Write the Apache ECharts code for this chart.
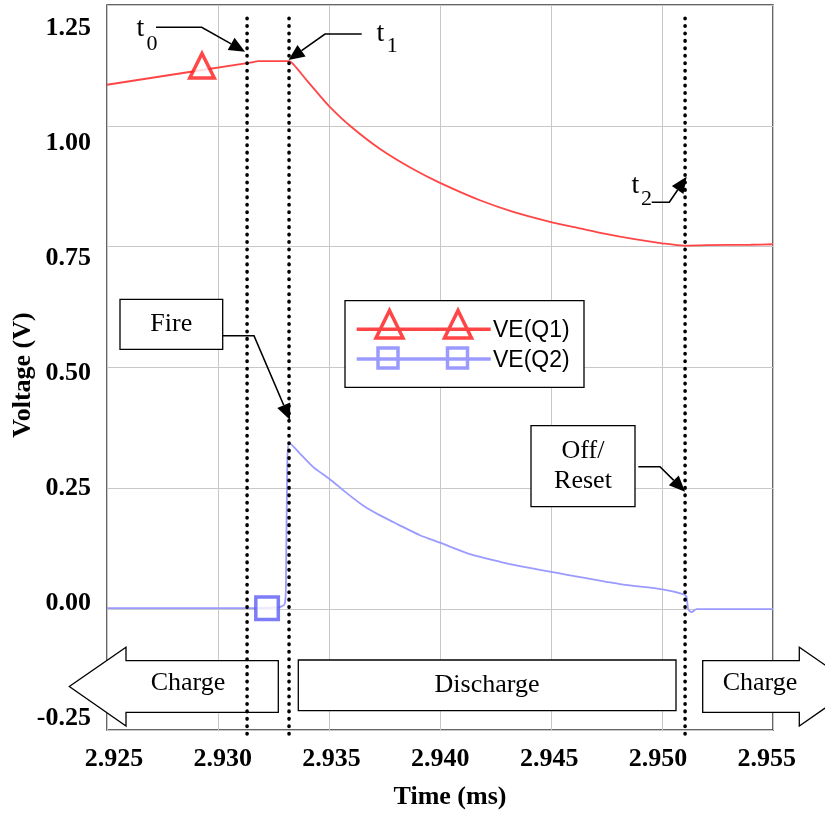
<!DOCTYPE html>
<html>
<head>
<meta charset="utf-8">
<title>VE(Q1) / VE(Q2)</title>
<script src="https://cdn.jsdelivr.net/npm/echarts@6/dist/echarts.min.js"></script>
<style>
  html, body { margin: 0; padding: 0; background: #fff; }
  #chart { width: 825px; height: 815px; }
</style>
</head>
<body>
<div id="chart"></div>
<script>
// time in ms, voltage in V
const xTicks = [2.925, 2.930, 2.935, 2.940, 2.945, 2.950, 2.955]
const yTicks = [-0.25, 0.00, 0.25, 0.50, 0.75, 1.00, 1.25]

const q1Time = [2.9250, 2.9316, 2.9318, 2.9332, 2.9334, 2.9340, 2.9345, 2.9350, 2.9360, 2.9373,
  2.9388, 2.9400, 2.9418, 2.9433, 2.9450, 2.9463, 2.9474, 2.9487, 2.9500, 2.9510, 2.9520, 2.9540, 2.9550]
const q1Volt = [1.085, 1.132, 1.134, 1.134, 1.127, 1.094, 1.067, 1.041, 0.998, 0.952,
  0.910, 0.882, 0.846, 0.822, 0.801, 0.788, 0.777, 0.766, 0.757, 0.752, 0.753, 0.754, 0.755]

const q2Time = [2.9250, 2.9310, 2.9327, 2.9330, 2.93306, 2.93312, 2.93321, 2.93369, 2.93429, 2.93501,
  2.93580, 2.93655, 2.93730, 2.93812, 2.93910, 2.94003, 2.94135, 2.94270, 2.94360, 2.94502,
  2.94811, 2.95002, 2.95095, 2.95110, 2.95118, 2.95133, 2.95156, 2.9550]
const q2Volt = [0.002, 0.002, 0.004, 0.010, 0.050, 0.300, 0.344, 0.322, 0.294, 0.270,
  0.240, 0.214, 0.194, 0.175, 0.153, 0.137, 0.114, 0.098, 0.089, 0.077,
  0.052, 0.041, 0.031, 0.026, 0.000, -0.006, 0.000, 0.000]

// single markers drawn on each trace
const q1Marks = [[2.92928, 1.116]]
const q2Marks = [[2.93221, 0.002]]

// t0, t1, t2 and the dotted lines' extent
const eventNames = ['t0', 't1', 't2']
const eventTimes = [2.93131, 2.93320, 2.95104]
const eventSpan = [1.2225, -0.26]

const q1Color = '#ff4545'
const q2Color = '#9b9bff'
const serif = 'Liberation Serif'
const sans = 'Liberation Sans'

const pairs = (xs, ys) => xs.map((x, i) => [x, ys[i]])

const boldText = { fontFamily: serif, fontSize: 26, fontWeight: 'bold', color: '#000' }

const option = {
  animation: false,
  grid: {
    left: 107, right: 52, top: 5, bottom: 80,
    show: true, borderColor: '#333', borderWidth: 1.5
  },
  xAxis: [
    {
      type: 'value', min: 2.925, max: 2.955, interval: 0.005,
      axisLine: { show: false }, axisTick: { show: false }, axisLabel: { show: false },
      splitLine: { lineStyle: { color: '#c8c8c8', width: 1 } },
      name: 'Time (ms)', nameLocation: 'middle', nameGap: 54,
      nameTextStyle: Object.assign({ padding: [0, 0, 0, 20] }, boldText)
    },
    {
      // label-only axis, the original's tick labels sit a little off the grid
      type: 'value', position: 'bottom', min: 2.924678, max: 2.95529,
      axisLine: { show: false }, axisTick: { show: false }, splitLine: { show: false },
      axisLabel: Object.assign({ customValues: xTicks, formatter: v => v.toFixed(3), margin: 16 }, boldText)
    }
  ],
  yAxis: [
    {
      type: 'value', min: -0.25, max: 1.25, interval: 0.25,
      axisLine: { show: false }, axisTick: { show: false }, axisLabel: { show: false },
      splitLine: { lineStyle: { color: '#c8c8c8', width: 1 } },
      name: 'Voltage (V)', nameLocation: 'middle', nameGap: 71,
      nameTextStyle: Object.assign({ padding: [0, 15, 0, 0] }, boldText)
    },
    {
      type: 'value', position: 'left', min: -0.2759, max: 1.3003,
      axisLine: { show: false }, axisTick: { show: false }, splitLine: { show: false },
      axisLabel: Object.assign({ customValues: yTicks, formatter: v => v.toFixed(2), margin: 16 }, boldText)
    }
  ],
  series: [
    {
      name: 'VE(Q1)', type: 'line', data: pairs(q1Time, q1Volt), symbol: 'none',
      smooth: 0.25,
      lineStyle: { color: q1Color, width: 1.8 }
    },
    {
      name: 'VE(Q2)', type: 'line', data: pairs(q2Time, q2Volt), symbol: 'none',
      smooth: 0.25,
      lineStyle: { color: q2Color, width: 1.8 }
    },
    {
      name: 'VE(Q1) marker', type: 'scatter', data: q1Marks, symbol: 'triangle',
      symbolSize: 24.5, symbolOffset: [0, -4], z: 4,
      itemStyle: { color: '#fff', borderColor: '#ff1a1a', borderWidth: 3.5 }
    },
    {
      name: 'VE(Q2) marker', type: 'scatter', data: q2Marks, symbol: 'rect',
      symbolSize: 22.5, z: 4,
      itemStyle: { color: '#fff', borderColor: '#5c5cf5', borderWidth: 3.5 }
    }
  ].concat(eventTimes.map((t, i) => ({
    name: eventNames[i], type: 'line', symbol: 'none', clip: false, z: 10,
    data: eventSpan.map(v => [t, v]),
    lineStyle: { color: '#000', width: 3.6, type: [0.5, 6.95], cap: 'round' }
  })))
}

const chart = echarts.init(document.getElementById('chart'))
chart.setOption(option)

const px = t => chart.convertToPixel({ xAxisIndex: 0 }, t)

function leader (pts, tip) {
  const last = pts[pts.length - 1]
  const dx = tip[0] - last[0]
  const dy = tip[1] - last[1]
  const len = Math.hypot(dx, dy)
  const ux = dx / len
  const uy = dy / len
  const bx = tip[0] - ux * 16
  const by = tip[1] - uy * 16
  return [
    { type: 'polyline', z: 8, shape: { points: pts.concat([[bx, by]]) },
      style: { stroke: '#000', lineWidth: 1.6, fill: 'none' } },
    { type: 'polygon', z: 8, shape: { points: [tip, [bx - uy * 7, by + ux * 7], [bx + uy * 7, by - ux * 7]] },
      style: { fill: '#000' } }
  ]
}

function label (text, x, y, size, font, align) {
  return {
    type: 'text', z: 8,
    style: { text: text, x: x, y: y, font: size + 'px "' + (font || serif) + '"', fill: '#000',
      align: align || 'center', verticalAlign: 'middle' }
  }
}

function box (x, y, w, h) {
  return { type: 'rect', z: 6, shape: { x: x, y: y, width: w, height: h },
    style: { fill: '#fff', stroke: '#000', lineWidth: 1.3 } }
}

function arrowShape (pts) {
  return { type: 'polygon', z: 6, shape: { points: pts },
    style: { fill: '#fff', stroke: '#000', lineWidth: 1.3 } }
}

const tx = eventTimes.map(px)

const elements = [
  // phase arrows along the bottom
  arrowShape([[278.3, 660.7], [126, 660.7], [126, 647.3], [69.3, 686.5], [126, 726], [126, 712.3], [278.3, 712.3]]),
  label('Charge', 188, 683.5, 26),
  box(298.3, 660, 377.7, 50.7),
  label('Discharge', 487, 685.5, 26),
  arrowShape([[702.7, 660.7], [799.3, 660.7], [799.3, 647.3], [856, 686.5], [799.3, 726], [799.3, 712.3], [702.7, 712.3]]),
  label('Charge', 760, 683.5, 26),

  // callout boxes
  box(120, 299.3, 102.7, 50),
  label('Fire', 171.3, 324.3, 26),
  box(531, 425.7, 104, 81),
  label('Off/', 583, 451.2, 26),
  label('Reset', 583, 480.8, 26),

  // event labels
  label('t', 136.5, 28.5, 28, serif, 'left'),
  label('0', 146.5, 44.2, 22, serif, 'left'),
  label('t', 376.5, 33.5, 28, serif, 'left'),
  label('1', 386.8, 46, 22, serif, 'left'),
  label('t', 631.5, 185.5, 28, serif, 'left'),
  label('2', 641, 199.4, 22, serif, 'left'),

  // legend
  box(345, 300.7, 239, 86.6),
  { type: 'line', z: 7, shape: { x1: 356.7, y1: 329.3, x2: 490.7, y2: 329.3 }, style: { stroke: q1Color, lineWidth: 3.5 } },
  { type: 'line', z: 7, shape: { x1: 356.7, y1: 359, x2: 490.7, y2: 359 }, style: { stroke: q2Color, lineWidth: 3.5 } },
  label(option.series[0].name, 493, 330.8, 23, sans, 'left'),
  label(option.series[1].name, 493, 360.8, 23, sans, 'left')
]

;[389.5, 458].forEach(cx => {
  elements.push({ type: 'polygon', z: 7, shape: { points: [[cx, 310.5], [cx + 13.5, 338], [cx - 13.5, 338]] },
    style: { fill: 'none', stroke: q1Color, lineWidth: 3.5 } })
})
;[388, 457.5].forEach(cx => {
  elements.push({ type: 'rect', z: 7, shape: { x: cx - 10, y: 348, width: 20, height: 20 },
    style: { fill: 'none', stroke: q2Color, lineWidth: 3.5 } })
})

// callout leaders pointing at the event lines
;[
  [[[156, 27.3], [201.7, 27.3]], [tx[0] - 2, 51.7]],
  [[[361.7, 34], [325, 34]], [tx[1] - 0.5, 60]],
  [[[651.7, 202.3], [669.3, 202.3]], [tx[2] + 1.5, 176.7]],
  [[[222.7, 335.7], [254, 335.7]], [tx[1] + 1, 420]],
  [[[638.3, 466.7], [660, 466.7]], [tx[2], 491.7]]
].forEach(l => { leader(l[0], l[1]).forEach(e => elements.push(e)) })

chart.setOption({ graphic: { elements: elements } })
</script>
</body>
</html>
